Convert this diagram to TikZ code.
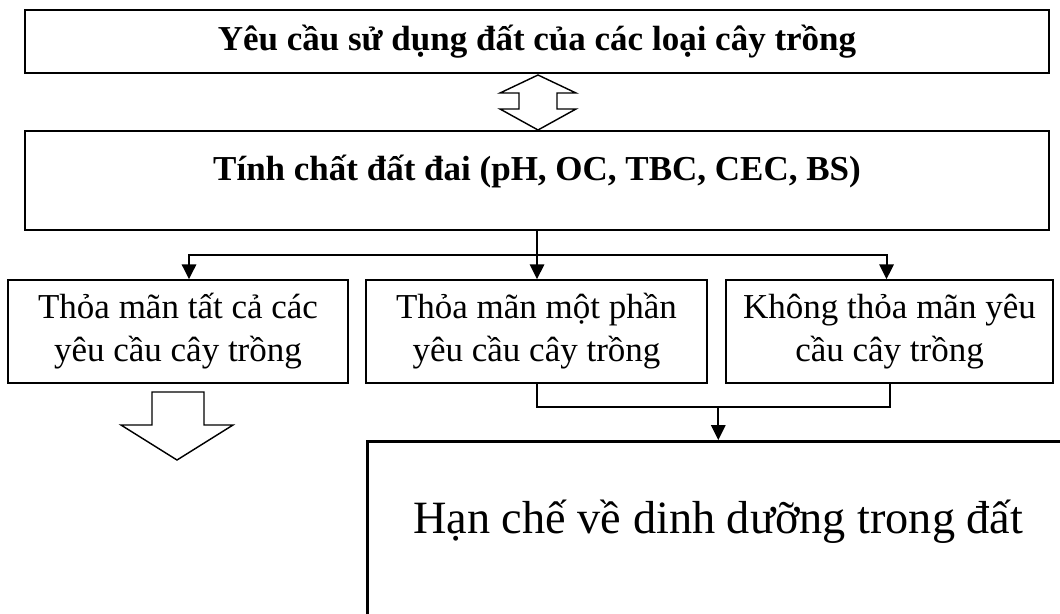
\documentclass[tikz,border=0pt]{standalone}
\usepackage{fontspec}
\setmainfont{Liberation Serif}
\usetikzlibrary{calc,arrows.meta}
% one pixel of the layout
\newcommand\pxu{0.35pt}
\newcommand\txt{\fontsize{12.25}{15}\selectfont}
\newcommand\bigtxt{\fontsize{16.2}{19}\selectfont}

\begin{document}
\begin{tikzpicture}[x=0.35pt,y=-0.35pt,
		bigbox/.style={draw,line width=0.9pt,inner sep=0pt,align=center,font=\txt},
		optbox/.style={draw,line width=0.5pt,inner sep=0pt,align=center,font=\txt,minimum height=103*\pxu},
		link/.style={line width=0.7pt},
		tip/.style={-{Triangle[length=5.2pt,width=5pt]}},
		hollow/.style={draw,line width=0.5pt,line join=miter}]
			\useasboundingbox (0,0) rectangle (1060,614);
			\clip (0,0) rectangle (1060,614);
			
			% top boxes
			\node[bigbox,minimum width=1024*\pxu,minimum height=63*\pxu,font=\txt\bfseries] (need) at (537,41.5) {Yêu cầu sử dụng đất của các loại cây trồng};
			\node[bigbox,minimum width=1024*\pxu,text height=49*\pxu,text depth=50*\pxu,font=\txt\bfseries] (soil) at (537,180.5) {Tính chất đất đai (pH, OC, TBC, CEC, BS)};
			
			% the three cases
			\node[optbox,minimum width=340*\pxu] (all) at (178,331.5) {Thỏa mãn tất cả các\\yêu cầu cây trồng};
			\node[optbox,minimum width=341*\pxu] (part) at (536.5,331.5) {Thỏa mãn một phần\\yêu cầu cây trồng};
			\node[optbox,minimum width=327*\pxu] (none) at (889.5,331.5) {Không thỏa mãn yêu\\cầu cây trồng};
			
			% result box, runs off the page
			\node[bigbox,anchor=north west,minimum width=702*\pxu,text height=92*\pxu,text depth=250*\pxu,font=\bigtxt] (lim) at (366,440) {Hạn chế về dinh dưỡng trong đất};
			
			% double hollow arrow
			\draw[hollow] (538,75) -- (576,93) -- (557,93) -- (557,109) -- (576,109) -- (538,130)
			-- (500,109) -- (519,109) -- (519,93) -- (500,93) -- cycle;
			
			% split into the three cases
			\coordinate (fork) at ($(soil.south)+(0,24)$);
			\draw[link] (soil.south) -- (fork);
			\draw[link,tip] (fork) -| ($(all.north)+(11,0)$);
			\draw[link,tip] (fork) -- (fork |- part.north);
			\draw[link,tip] (fork) -| ($(none.north)+(-3,0)$);
			
			% merge to the result
			\draw[link] (part.south) -- ++(0,23) coordinate (merge) -| (none.south);
			\draw[link,tip] (merge -| lim.north) -- (lim.north);
			
			% hollow down arrow
			\draw[hollow] (152,392) -- (204,392) -- (204,425) -- (233,425) -- (177,460)
			-- (121,425) -- (152,425) -- cycle;
		\end{tikzpicture}
\end{document}
